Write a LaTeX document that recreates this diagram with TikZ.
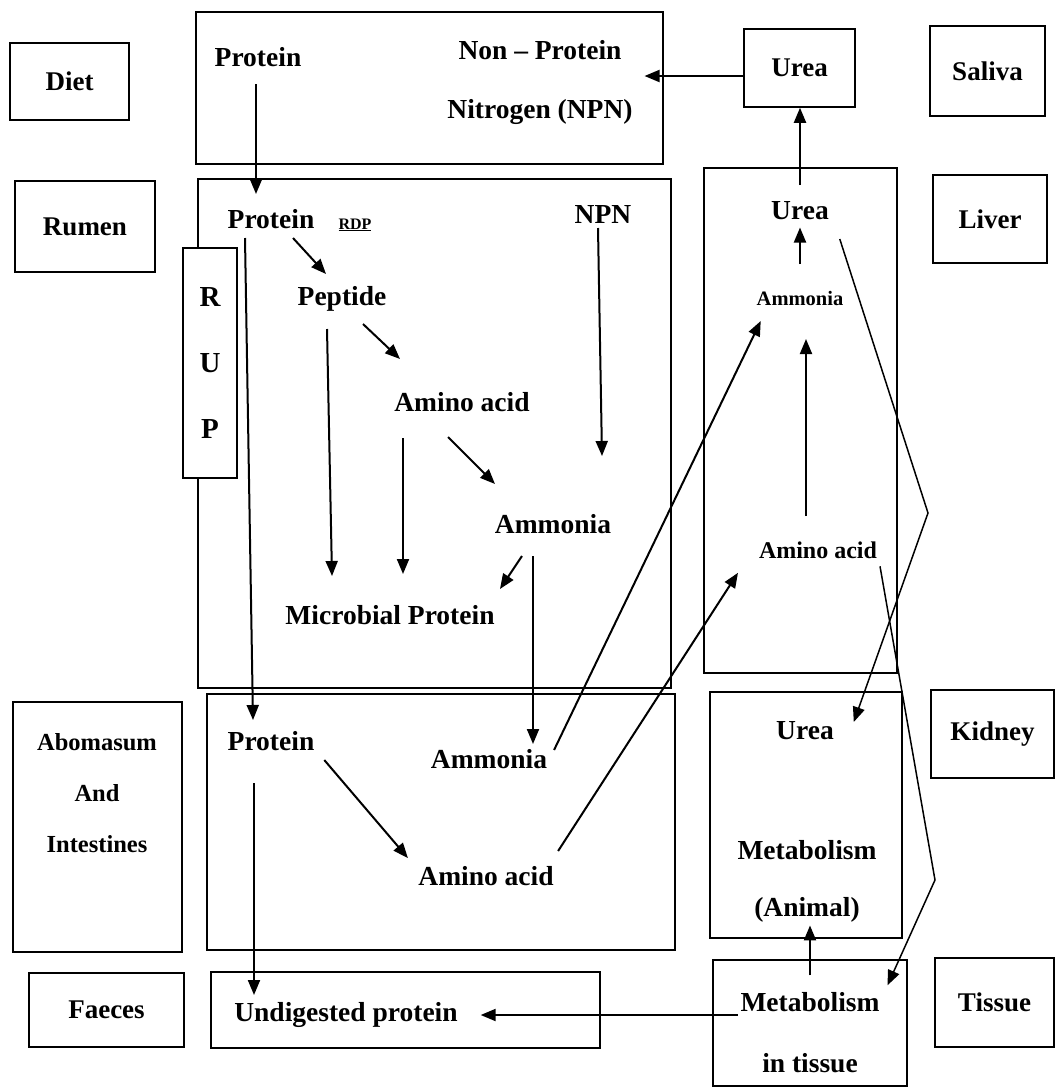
\documentclass[tikz,border=0pt]{standalone}
\usepackage{fontspec}
\setmainfont{Liberation Serif}
\usetikzlibrary{arrows.meta,calc}

\begin{document}
\begin{tikzpicture}[x=1pt,y=-1pt,>={Triangle[length=15pt,width=12pt]},line width=2pt]

        \tikzstyle{region}=[draw,line width=1.5pt,inner sep=0pt]
        \tikzstyle{lbl}=[region,font=\fontsize{27}{32}\selectfont\bfseries]
        \tikzstyle{txt}=[font=\fontsize{27.5}{33}\selectfont\bfseries,inner sep=2pt,text height=18pt,text depth=5pt]
        \tikzstyle{smalltxt}=[font=\fontsize{20.5}{24}\selectfont\bfseries,inner sep=2pt,text height=14pt,text depth=4pt]

        \useasboundingbox (0,0) rectangle (1056,1088);

        % organ labels, left and right
        \node[lbl,minimum width=119pt,minimum height=77pt]  (diet)   at (69.5,81.5)  {Diet};
        \node[lbl,minimum width=140pt,minimum height=91pt]  (rumen)  at (85,226.5)   {Rumen};
        \node[region,minimum width=169pt,minimum height=250pt] (abom) at (97.5,827)  {};
        \node[font=\fontsize{24.5}{51}\selectfont\bfseries,align=center] (abomtext) at (97,793) {Abomasum\\And\\Intestines};
        \node[lbl,minimum width=155pt,minimum height=74pt]  (faeces) at (106.5,1010) {Faeces};

        \node[lbl,minimum width=115pt,minimum height=90pt]  (saliva) at (987.5,71)   {Saliva};
        \node[lbl,minimum width=114pt,minimum height=88pt]  (liver)  at (990,219)    {Liver};
        \node[lbl,minimum width=123pt,minimum height=88pt]  (kidney) at (992.5,734)  {Kidney};
        \node[lbl,minimum width=119pt,minimum height=89pt]  (tissue) at (994.5,1002.5) {Tissue};

        % compartments
        \node[region,minimum width=467pt,minimum height=152pt] (dietbox)  at (429.5,88)   {};
        \node[region,minimum width=473pt,minimum height=509pt] (rumbox)   at (434.5,433.5) {};
        \node[region,minimum width=193pt,minimum height=505pt] (livbox)   at (800.5,420.5) {};
        \node[region,minimum width=468pt,minimum height=256pt] (abbox)    at (441,822)    {};
        \node[region,minimum width=192pt,minimum height=246pt] (animbox)  at (806,815)    {};
        \node[region,minimum width=389pt,minimum height=76pt]  (undigbox) at (405.5,1010) {};
        \node[region,minimum width=194pt,minimum height=126pt] (tisbox)   at (810,1023)   {};
        \node[lbl,minimum width=111pt,minimum height=78pt]     (salurea)  at (799.5,68)   {Urea};
        \node[region,fill=white,minimum width=54pt,minimum height=230pt,
              font=\fontsize{29}{66}\selectfont\bfseries,align=center] (rup) at (210,363) {R\\U\\P};

        % texts
        \node[txt] (dietprot) at (258,60) {Protein};
        \node[font=\fontsize{27.5}{59}\selectfont\bfseries,align=center,inner sep=2pt] (npnsrc) at (540,82.5) {Non -- Protein\\Nitrogen (NPN)};
        \node[txt] (rumprot)  at (271,222) {Protein};
        \node[font=\fontsize{16}{19}\selectfont\bfseries] (rdp) at (355,225) {\underline{RDP}};
        \node[txt] (npn)      at (603,217) {NPN};
        \node[txt] (peptide)  at (342,299) {Peptide};
        \node[txt] (ruaa)     at (462,405) {Amino acid};
        \node[txt] (runh)     at (553,527) {Ammonia};
        \node[txt] (micro)    at (390,618) {Microbial Protein};

        \node[txt]      (liurea) at (800,213) {Urea};
        \node[smalltxt] (linh)   at (800,300) {Ammonia};
        \node[txt,font=\fontsize{24}{28}\selectfont\bfseries,text height=16pt,text depth=4.6pt] (liaa) at (818,553) {Amino acid};

        \node[txt] (abprot) at (271,744) {Protein};
        \node[txt] (abnh)   at (489,762) {Ammonia};
        \node[txt] (abaa)   at (486,879) {Amino acid};

        \node[txt] (animurea) at (805,733) {Urea};
        \node[font=\fontsize{27.5}{57}\selectfont\bfseries,align=center,inner sep=2pt] (animmetab) at (807,881.5) {Metabolism\\(Animal)};
        \node[txt] (undig) at (346,1015) {Undigested protein};
        \node[font=\fontsize{27.5}{61}\selectfont\bfseries,align=center,inner sep=2pt] (tmetab) at (810,1032.5) {Metabolism\\in tissue};

        \coordinate (urbend) at (928,513);
        \coordinate (aabend) at (935,880);

        % diet and saliva
        \draw[->] ($(dietprot.south)+(-2,9.5)$) -- ($(rumprot.north)+(-15,-13.5)$);
        \draw[->] ($(salurea.west)+(0,8)$) -- ($(npnsrc.east |- salurea.west)+(9,8)$);
        \draw[->] ($(liurea.north)+(0,-13.5)$) -- (liurea.north |- salurea.south);

        % rumen
        \draw[->] ($(rumprot.south)+(22,1.5)$) -- ($(peptide.north)+(-16,-10.5)$);
        \draw[->] ($(rumprot.south)+(-26,1.5)$) -- ($(abprot.north)+(-18,-9.5)$);
        \draw[->] ($(npn.south)+(-5,-3.5)$) -- ($(runh.north)+(49,-56.5)$);
        \draw[->] ($(peptide.south)+(-15,15.5)$) -- ($(micro.north)+(-58,-27.5)$);
        \draw[->] ($(peptide.south)+(21,10.5)$) -- ($(ruaa.north)+(-62,-31.5)$);
        \draw[->] ($(ruaa.south)+(-59,18.5)$) -- ($(micro.north)+(13,-29.5)$);
        \draw[->] ($(ruaa.south)+(-14,17.5)$) -- ($(runh.north)+(-58,-28.5)$);
        \draw[->] ($(runh.south)+(-31,14.5)$) -- ($(micro.north)+(110,-14.5)$);
        \draw[->] ($(runh.south)+(-20,14.5)$) -- ($(abnh.north)+(44,-3.5)$);

        % to and in the liver
        \draw[->] ($(abnh.east)+(4,-12)$) -- ($(linh.south west)+(7,9)$);
        \draw[->] ($(abaa.north east)+(1.5,-13.5)$) -- ($(liaa.south west)+(-18,6.5)$);
        \draw[->] ($(liaa.north)+(-12,-23.6)$) -- ($(linh.south)+(6,27)$);
        \draw[->] ($(linh.north)+(0,-24)$) -- (liurea.south);
        \draw[->,line width=1.5pt] ($(liurea.south east)+(8,11.5)$) -- (urbend) -- ($(animurea.north east)+(17,3.5)$);
        \draw[->,line width=1.5pt] (liaa.south east) -- (aabend) -- ($(tmetab.north east)+(5,-4)$);

        % abomasum and tissue
        \draw[->] ($(abprot.south east)+(7,1.5)$) -- ($(abaa.north west)+(-7.5,-6.5)$);
        \draw[->] ($(abprot.south)+(-17,24.5)$) -- ($(undig.north)+(-92,-5.5)$);
        \draw[->] ($(tmetab.north)+(0,-14)$) -- (tmetab.north |- animmetab.south);
        \draw[->] (tmetab.west |- undig.east) -- ($(undig.east)+(20,0)$);

\end{tikzpicture}
\end{document}
